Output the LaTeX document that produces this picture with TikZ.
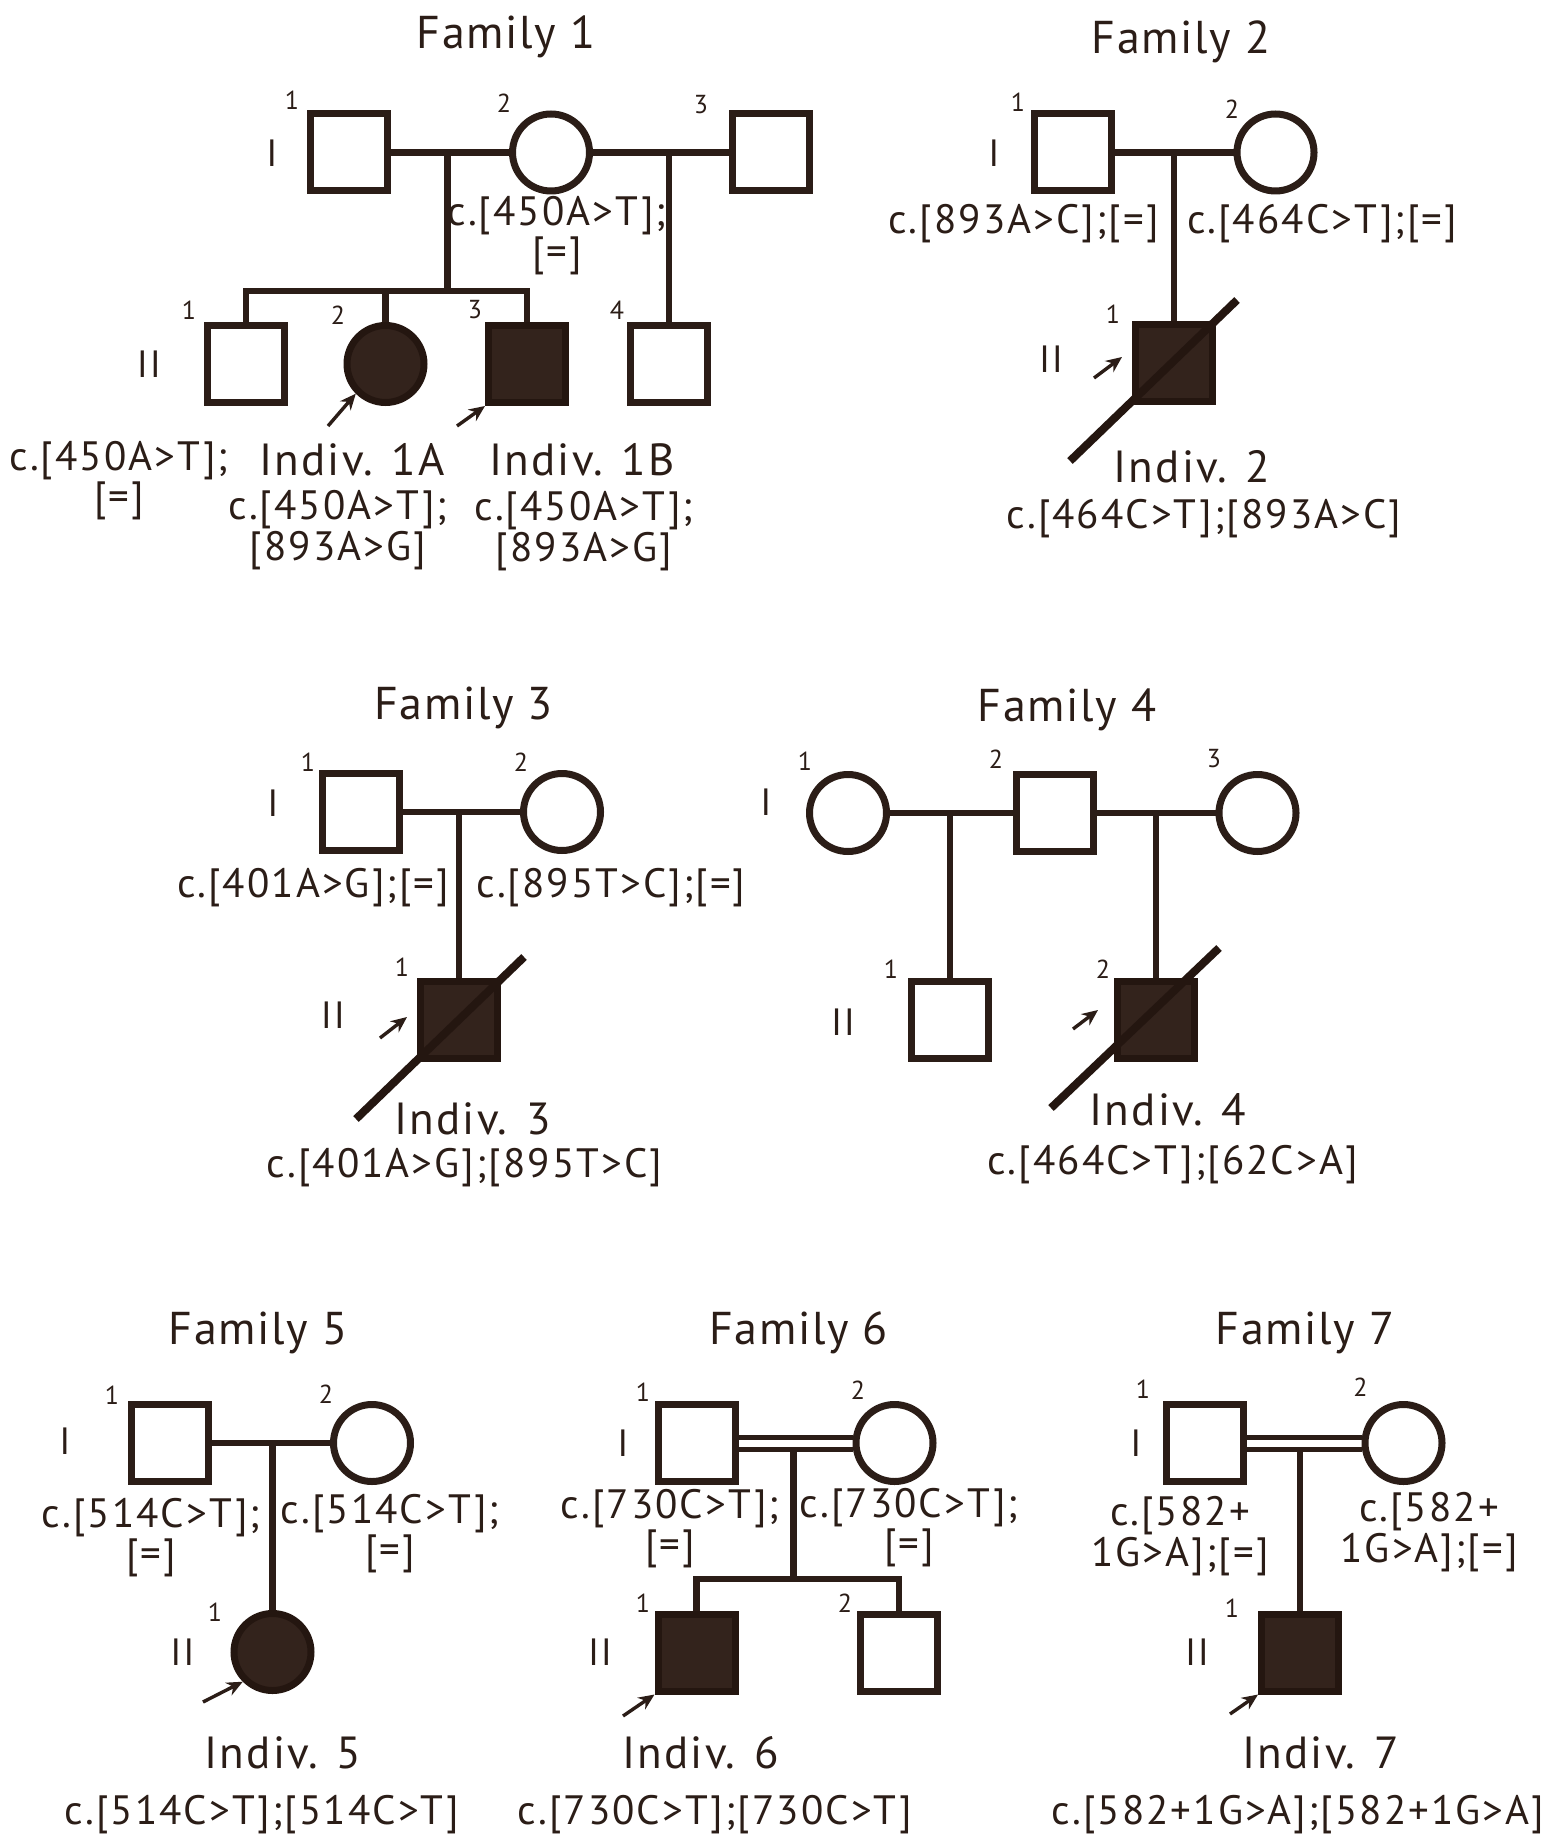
\documentclass[tikz,border=0pt]{standalone}
\usepackage{fontspec}
\setmainfont{PT Sans}
\newfontfamily\genfont[LetterSpace=5]{PT Sans}
\newfontfamily\indfont[LetterSpace=5]{PT Sans}
\newfontfamily\ttlfont[LetterSpace=3.5]{PT Sans}
\usetikzlibrary{arrows.meta}
\definecolor{ink}{HTML}{2B1D17}
\definecolor{inkd}{HTML}{241610}
\definecolor{fillc}{HTML}{33231C}
\begin{document}
\begin{tikzpicture}[x=0.5pt,y=-0.5pt,
  sym/.style={draw=ink,line width=3.5pt,inner sep=0pt,minimum size=38.5pt,fill=white},
  male/.style={sym,rectangle},
  female/.style={sym,circle},
  aff/.style={fill=fillc,draw=inkd},
  conn/.style={draw=ink,line width=3.25pt},
  consang/.style={draw=ink,line width=2.5pt},
  slash/.style={draw=inkd,line width=4pt},
  proband/.style={draw=ink,line width=1.7pt,-{Stealth[length=8pt,width=7pt]}},
  txt/.style={text=ink,inner sep=0pt,align=center,font=\genfont\fontsize{20.5pt}{18pt}\selectfont},
  ind/.style={text=ink,inner sep=0pt,font=\indfont\fontsize{22.5pt}{20pt}\selectfont},
  ttl/.style={text=ink,inner sep=0pt,font=\ttlfont\fontsize{23pt}{26pt}\selectfont},
  num/.style={text=ink,inner sep=0pt,font=\fontsize{13pt}{15pt}\selectfont},
  gen/.style={text=ink,inner sep=0pt,font=\genfont\fontsize{19pt}{21pt}\selectfont},
]
\useasboundingbox[fill=white] (0,0) rectangle (1559,1834);

% ---------------- Family 1 ----------------
\node[ttl] (t1) at (506,37) {Family 1};
\node[male] (f1a) at (348.5,152.5) {};
\node[female] (f1b) at (551,152.5) {};
\node[male] (f1c) at (770.5,152.5) {};
\node[male] (f1d) at (246,364) {};
\node[female,aff] (f1e) at (385.5,364) {};
\node[male,aff] (f1f) at (527,364) {};
\node[male] (f1g) at (669,364) {};
\coordinate (m1a) at (447.5,152.5);
\coordinate (s1) at (447.5,291);
\coordinate (s1l) at (246,291);
\coordinate (s1m) at (385.5,291);
\coordinate (s1r) at (527,291);
\coordinate (m1b) at (669,152.5);
\draw[conn] (f1a.east) -- (f1b.west);
\draw[conn] (f1b.east) -- (f1c.west);
\draw[conn] (m1a) -- (s1);
\draw[conn] (f1d.north) -- (s1l) -- (s1r) -- (f1f.north);
\draw[conn] (s1m) -- (f1e.north);
\draw[conn] (m1b) -- (f1g.north);
\node[num] (n1a) at (292,100) {1};
\node[num] (n1b) at (504,103) {2};
\node[num] (n1c) at (701,105) {3};
\node[num] (n1d) at (189,310) {1};
\node[num] (n1e) at (338,315) {2};
\node[num] (n1f) at (475,310) {3};
\node[num] (n1g) at (617,310) {4};
\node[gen] (g1a) at (272,153) {I};
\node[gen] (g1b) at (149,364) {II};
\coordinate (p1e) at (328,426);
\coordinate (p1f) at (457,426);
\draw[proband] (p1e) -- (f1e.south west);
\draw[proband] (p1f) -- (f1f.south west);
\node[txt] (x1b) at (557,236) {c.[450A>T];\\{}[=]};
\node[txt] (x1d) at (119,481) {c.[450A>T];\\{}[=]};
\node[ind] (l1e) at (352,460) {Indiv. 1A};
\node[txt] (x1e) at (338,530) {c.[450A>T];\\{}[893A>G]};
\node[ind] (l1f) at (582,460) {Indiv. 1B};
\node[txt] (x1f) at (584,531) {c.[450A>T];\\{}[893A>G]};

% ---------------- Family 2 ----------------
\node[ttl] (t2) at (1181,42) {Family 2};
\node[male] (f2a) at (1073,152.5) {};
\node[female] (f2b) at (1275.5,152.5) {};
\node[male,aff] (f2c) at (1174,363) {};
\coordinate (m2) at (1174,152.5);
\draw[conn] (f2a.east) -- (f2b.west);
\draw[conn] (m2) -- (f2c.north);
\node[num] (n2a) at (1018,102) {1};
\node[num] (n2b) at (1232,109) {2};
\node[num] (n2c) at (1113,314) {1};
\node[gen] (g2a) at (994,153) {I};
\node[gen] (g2b) at (1051,359) {II};
\coordinate (d2a) at (1070,461);
\coordinate (d2b) at (1237,300);
\draw[slash] (d2a) -- (d2b);
\coordinate (p2c) at (1094,378);
\draw[proband] (p2c) -- (1122,357);
\node[txt] (x2a) at (1023.5,224) {c.[893A>C];[=]};
\node[txt] (x2b) at (1322,224) {c.[464C>T];[=]};
\node[ind] (l2c) at (1192,467) {Indiv. 2};
\node[txt] (x2c) at (1204,519) {c.[464C>T];[893A>C]};

% ---------------- Family 3 ----------------
\node[ttl] (t3) at (463.5,708) {Family 3};
\node[male] (f3a) at (360.5,812) {};
\node[female] (f3b) at (562,812) {};
\node[male,aff] (f3c) at (459,1020) {};
\coordinate (m3) at (459,812);
\draw[conn] (f3a.east) -- (f3b.west);
\draw[conn] (m3) -- (f3c.north);
\node[num] (n3a) at (308,762) {1};
\node[num] (n3b) at (521,762) {2};
\node[num] (n3c) at (402,967) {1};
\node[gen] (g3a) at (273,803) {I};
\node[gen] (g3b) at (333,1015) {II};
\coordinate (d3a) at (356,1119);
\coordinate (d3b) at (524,957);
\draw[slash] (d3a) -- (d3b);
\coordinate (p3c) at (380,1038);
\draw[proband] (p3c) -- (407,1017);
\node[txt] (x3a) at (313,888) {c.[401A>G];[=]};
\node[txt] (x3b) at (611,888) {c.[895T>C];[=]};
\node[ind] (l3c) at (472.5,1119) {Indiv. 3};
\node[txt] (x3c) at (464.5,1168) {c.[401A>G];[895T>C]};

% ---------------- Family 4 ----------------
\node[ttl] (t4) at (1067,710) {Family 4};
\node[female] (f4a) at (848,813) {};
\node[male] (f4b) at (1054.5,813) {};
\node[female] (f4c) at (1257.5,813) {};
\node[male] (f4d) at (950,1020) {};
\node[male,aff] (f4e) at (1156,1020) {};
\coordinate (m4a) at (950,813);
\coordinate (m4b) at (1156,813);
\draw[conn] (f4a.east) -- (f4b.west);
\draw[conn] (f4b.east) -- (f4c.west);
\draw[conn] (m4a) -- (f4d.north);
\draw[conn] (m4b) -- (f4e.north);
\node[num] (n4a) at (805,761) {1};
\node[num] (n4b) at (996,759) {2};
\node[num] (n4c) at (1214,759) {3};
\node[num] (n4d) at (891,969) {1};
\node[num] (n4e) at (1103,969) {2};
\node[gen] (g4a) at (766,802) {I};
\node[gen] (g4b) at (843,1022) {II};
\coordinate (d4a) at (1051,1108);
\coordinate (d4b) at (1219,948);
\draw[slash] (d4a) -- (d4b);
\coordinate (p4e) at (1073,1029);
\draw[proband] (p4e) -- (1098,1010);
\node[ind] (l4e) at (1168,1110) {Indiv. 4};
\node[txt] (x4e) at (1172.5,1165) {c.[464C>T];[62C>A]};

% ---------------- Family 5 ----------------
\node[ttl] (t5) at (258,1333) {Family 5};
\node[male] (f5a) at (170,1443) {};
\node[female] (f5b) at (372,1443) {};
\node[female,aff] (f5c) at (272.5,1652) {};
\coordinate (m5) at (272.5,1443);
\draw[conn] (f5a.east) -- (f5b.west);
\draw[conn] (m5) -- (f5c.north);
\node[num] (n5a) at (112,1395) {1};
\node[num] (n5b) at (326,1394) {2};
\node[num] (n5c) at (215,1612) {1};
\node[gen] (g5a) at (65,1441) {I};
\node[gen] (g5b) at (182.5,1652.5) {II};
\coordinate (p5c) at (203,1702);
\draw[proband] (p5c) -- (f5c.south west);
\node[txt] (x5a) at (151,1538) {c.[514C>T];\\{}[=]};
\node[txt] (x5b) at (390,1534) {c.[514C>T];\\{}[=]};
\node[ind] (l5c) at (283,1753) {Indiv. 5};
\node[txt] (x5c) at (262,1815) {c.[514C>T];[514C>T]};

% ---------------- Family 6 ----------------
\node[ttl] (t6) at (798.5,1333) {Family 6};
\node[male] (f6a) at (696.5,1443) {};
\node[female] (f6b) at (894.5,1443) {};
\node[male,aff] (f6c) at (696.5,1652.5) {};
\node[male] (f6d) at (899,1652.5) {};
\draw[consang] ([yshift=2.75pt]f6a.east) -- ([yshift=2.75pt]f6b.west);
\draw[consang] ([yshift=-3.25pt]f6a.east) -- ([yshift=-3.25pt]f6b.west);
\coordinate (m6) at (793.5,1449.5);
\coordinate (s6) at (793.5,1579);
\coordinate (s6l) at (696.5,1579);
\coordinate (s6r) at (899,1579);
\draw[conn] (m6) -- (s6);
\draw[conn] (f6c.north) -- (s6l) -- (s6r) -- (f6d.north);
\node[num] (n6a) at (643,1392) {1};
\node[num] (n6b) at (858,1390) {2};
\node[num] (n6c) at (643,1603) {1};
\node[num] (n6d) at (845,1603) {2};
\node[gen] (g6a) at (623,1443) {I};
\node[gen] (g6b) at (600,1652.5) {II};
\coordinate (p6c) at (623,1716);
\draw[proband] (p6c) -- (f6c.south west);
\node[txt] (x6a) at (670,1529) {c.[730C>T];\\{}[=]};
\node[txt] (x6b) at (909,1528) {c.[730C>T];\\{}[=]};
\node[ind] (l6c) at (700.5,1753) {Indiv. 6};
\node[txt] (x6c) at (715,1815) {c.[730C>T];[730C>T]};

% ---------------- Family 7 ----------------
\node[ttl] (t7) at (1305,1333) {Family 7};
\node[male] (f7a) at (1204.5,1443) {};
\node[female] (f7b) at (1403.5,1443) {};
\node[male,aff] (f7c) at (1300,1652.5) {};
\draw[consang] ([yshift=2.75pt]f7a.east) -- ([yshift=2.75pt]f7b.west);
\draw[consang] ([yshift=-3.25pt]f7a.east) -- ([yshift=-3.25pt]f7b.west);
\coordinate (m7) at (1300,1449.5);
\draw[conn] (m7) -- (f7c.north);
\node[num] (n7a) at (1143,1389) {1};
\node[num] (n7b) at (1360.5,1387) {2};
\node[num] (n7c) at (1232,1608) {1};
\node[gen] (g7a) at (1136,1443) {I};
\node[gen] (g7b) at (1197,1652.5) {II};
\coordinate (p7c) at (1230,1714);
\draw[proband] (p7c) -- (f7c.south west);
\node[txt] (x7a) at (1180,1536) {c.[582+\\1G>A];[=]};
\node[txt] (x7b) at (1429,1532) {c.[582+\\1G>A];[=]};
\node[ind] (l7c) at (1320.5,1753) {Indiv. 7};
\node[txt] (x7c) at (1298,1815) {c.[582+1G>A];[582+1G>A]};
\end{tikzpicture}
\end{document}
